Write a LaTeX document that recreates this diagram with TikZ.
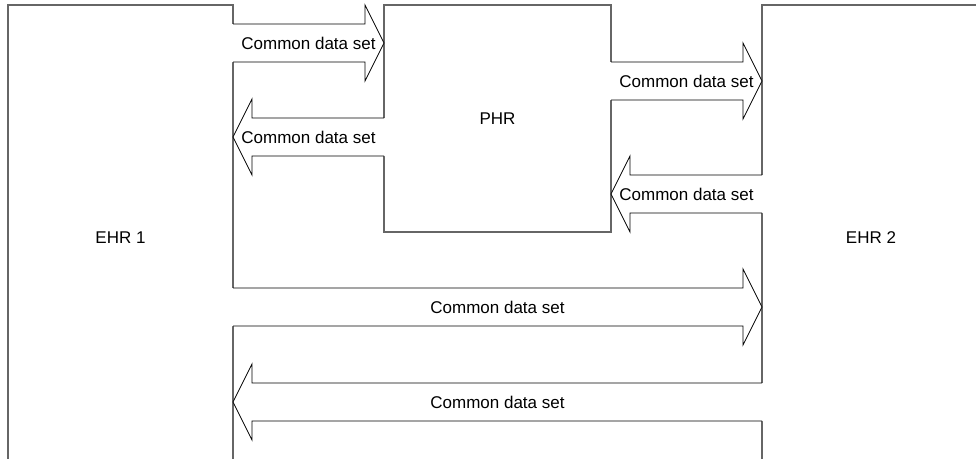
\documentclass[tikz,border=0pt]{standalone}
\usepackage{fontspec}
\setmainfont{Liberation Sans}
\usetikzlibrary{calc}
\tikzset{
  boxnode/.style={draw=black!60, line width=1.1pt, inner sep=0pt, outer sep=0pt,
    font=\fontsize{17}{20}\selectfont},
  arrowline/.style={draw=black, line width=0.8pt, line join=miter},
  lbl/.style={font=\fontsize{17}{20}\selectfont, inner sep=0pt},
}
% #1 tail coordinate, #2 tip coordinate, #3 direction (1 right, -1 left), #4 label name
\newcommand\blockarrow[4]{%
  \fill[white] let \p1=(#1),\p2=(#2) in
    ({\x1-#3*1.2pt},{\y1+19pt}) -- ({\x2-#3*19pt},{\y1+19pt}) -- ({\x2-#3*19pt},{\y1+38pt})
    -- (\x2,\y2) -- ({\x2-#3*19pt},{\y1-38pt}) -- ({\x2-#3*19pt},{\y1-19pt})
    -- ({\x1-#3*1.2pt},{\y1-19pt}) -- cycle;
  \draw[arrowline] let \p1=(#1),\p2=(#2) in
    ({\x1},{\y1+19pt}) -- ({\x2-#3*19pt},{\y1+19pt}) -- ({\x2-#3*19pt},{\y1+38pt})
    -- (\x2,\y2) -- ({\x2-#3*19pt},{\y1-38pt}) -- ({\x2-#3*19pt},{\y1-19pt})
    -- ({\x1},{\y1-19pt});
  \node[lbl] (#4) at ($(#1)!0.5!(#2)$) {Common data set};
}
\begin{document}
\begin{tikzpicture}[x=1pt,y=-1pt]
\clip (0,0) rectangle (976,458);
\fill[white] (0,0) rectangle (976,458);
% boxes
\node[boxnode, minimum width=225pt, minimum height=465pt] (ehr1) at (120.5,237.5) {EHR 1};
\node[boxnode, minimum width=227pt, minimum height=227pt] (phr) at (497.5,118.5) {PHR};
\node[boxnode, minimum width=218pt, minimum height=465pt] (ehr2) at (871,237.5) {EHR 2};
% rows
\coordinate (r1) at (0,43);
\coordinate (r2) at (0,137);
\coordinate (r3) at (0,81);
\coordinate (r4) at (0,194);
\coordinate (r5) at (0,307);
\coordinate (r6) at (0,402);
% arrow end points
\coordinate (a1t) at (ehr1.east |- r1); \coordinate (a1p) at (phr.west |- r1);
\coordinate (a2t) at (phr.west |- r2);  \coordinate (a2p) at (ehr1.east |- r2);
\coordinate (a3t) at (phr.east |- r3);  \coordinate (a3p) at (ehr2.west |- r3);
\coordinate (a4t) at (ehr2.west |- r4); \coordinate (a4p) at (phr.east |- r4);
\coordinate (a5t) at (ehr1.east |- r5); \coordinate (a5p) at (ehr2.west |- r5);
\coordinate (a6t) at (ehr2.west |- r6); \coordinate (a6p) at (ehr1.east |- r6);
% arrows
\blockarrow{a1t}{a1p}{1}{l1}
\blockarrow{a2t}{a2p}{-1}{l2}
\blockarrow{a3t}{a3p}{1}{l3}
\blockarrow{a4t}{a4p}{-1}{l4}
\blockarrow{a5t}{a5p}{1}{l5}
\blockarrow{a6t}{a6p}{-1}{l6}
\end{tikzpicture}
\end{document}
